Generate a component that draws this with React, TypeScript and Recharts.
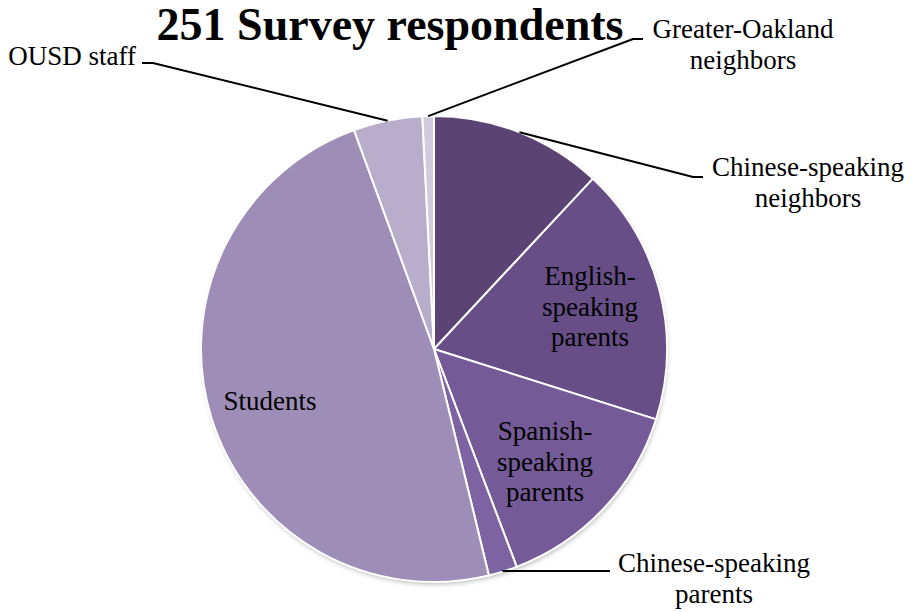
import React from 'react';
import { PieChart, Pie, Cell } from 'recharts';

const categories = [
  'Chinese-speaking neighbors',
  'English-speaking parents',
  'Spanish-speaking parents',
  'Chinese-speaking parents',
  'Students',
  'OUSD staff',
  'Greater-Oakland neighbors',
];
const respondents = [30, 45, 36, 5, 121, 12, 2];
const labelLines = [
  ['Chinese-speaking', 'neighbors'],
  ['English-', 'speaking', 'parents'],
  ['Spanish-', 'speaking', 'parents'],
  ['Chinese-speaking', 'parents'],
  ['Students'],
  ['OUSD staff'],
  ['Greater-Oakland', 'neighbors'],
];
const title = '251 Survey respondents';

const colors = ['#5b4473', '#674e87', '#745a97', '#7e63a3', '#9e8db6', '#b8adca', '#d2cbdf'];

const data = categories.map((name, i) => ({ name, value: respondents[i] }));
const totalData = [{ name: 'all', value: respondents.reduce((a, b) => a + b, 0) }];

type Layout =
  | { kind: 'inside'; dx: number; dy: number; anchor: 'middle' | 'start' | 'end' }
  | {
      kind: 'outside';
      elbow: [number, number] | null;
      end: [number, number];
      tx: number;
      ty: number;
      anchor: 'middle' | 'start' | 'end';
    };

const layouts: Layout[] = [
  { kind: 'outside', elbow: [259, -172], end: [269, -172], tx: 374, ty: -173, anchor: 'middle' },
  { kind: 'inside', dx: 156, dy: -64, anchor: 'middle' },
  { kind: 'inside', dx: 111, dy: 91, anchor: 'middle' },
  { kind: 'outside', elbow: null, end: [176, 222], tx: 280, ty: 223, anchor: 'middle' },
  { kind: 'inside', dx: -164, dy: 61, anchor: 'middle' },
  { kind: 'outside', elbow: [-281, -286], end: [-292, -286], tx: -298, ty: -284, anchor: 'end' },
  { kind: 'outside', elbow: [199, -310], end: [209, -310], tx: 309, ty: -311, anchor: 'middle' },
];

const FONT = '"Liberation Serif", "Times New Roman", serif';
const LINE_H = 30.5;
const RAD = Math.PI / 180;

const renderLabel = (props: any) => {
  const { cx, cy, midAngle, outerRadius, index } = props;
  const lay = layouts[index];
  const lines = labelLines[index];
  if (!lay) return null;
  if (lay.kind === 'inside') {
    return (
      <text
        key={`lbl-${index}`}
        x={cx + lay.dx}
        y={cy + lay.dy}
        textAnchor={lay.anchor}
        fontFamily={FONT}
        fontSize={27}
        fill="#000"
      >
        {lines.map((l, k) => (
          <tspan key={k} x={cx + lay.dx} dy={k === 0 ? 0 : LINE_H}>
            {l}
          </tspan>
        ))}
      </text>
    );
  }
  const sx = cx + Math.cos(-midAngle * RAD) * outerRadius;
  const sy = cy + Math.sin(-midAngle * RAD) * outerRadius;
  const pts: [number, number][] = [[sx, sy]];
  if (lay.elbow) pts.push([cx + lay.elbow[0], cy + lay.elbow[1]]);
  else pts.push([sx, cy + lay.end[1]]);
  pts.push([cx + lay.end[0], cy + lay.end[1]]);
  return (
    <g key={`lbl-${index}`}>
      <polyline
        points={pts.map((p) => p.join(',')).join(' ')}
        fill="none"
        stroke="#000"
        strokeWidth={2}
      />
      <text
        x={cx + lay.tx}
        y={cy + lay.ty}
        textAnchor={lay.anchor}
        fontFamily={FONT}
        fontSize={27}
        fill="#000"
      >
        {lines.map((l, k) => (
          <tspan key={k} x={cx + lay.tx} dy={k === 0 ? 0 : LINE_H}>
            {l}
          </tspan>
        ))}
      </text>
    </g>
  );
};

export default function App() {
  return (
    <div style={{ position: 'absolute', left: 0, top: 0, width: 912, height: 612, background: '#fff' }}>
      <PieChart width={912} height={612} margin={{ top: 0, right: 0, bottom: 0, left: 0 }}>
        <defs>
          <filter id="pieShadow" x="-10%" y="-10%" width="120%" height="120%">
            <feDropShadow dx="1" dy="3" stdDeviation="2.5" floodColor="#000" floodOpacity="0.3" />
          </filter>
        </defs>
        <text
          x={390}
          y={40}
          textAnchor="middle"
          fontFamily={FONT}
          fontWeight="bold"
          fontSize={46}
          fill="#000"
        >
          {title}
        </text>
        <Pie
          data={totalData}
          dataKey="value"
          nameKey="name"
          cx={434}
          cy={349}
          outerRadius={232}
          startAngle={90}
          endAngle={-270}
          stroke="none"
          fill="#fff"
          isAnimationActive={false}
          style={{ filter: 'url(#pieShadow)' }}
          filter="url(#pieShadow)"
          labelLine={false}
          label={false}
        />
        <Pie
          data={data}
          dataKey="value"
          nameKey="name"
          cx={434}
          cy={349}
          outerRadius={233}
          startAngle={90}
          endAngle={-270}
          stroke="#fff"
          strokeWidth={2}
          isAnimationActive={false}
          labelLine={false}
          label={renderLabel}
        >
          {data.map((d, i) => (
            <Cell key={d.name} fill={colors[i]} />
          ))}
        </Pie>
      </PieChart>
    </div>
  );
}
